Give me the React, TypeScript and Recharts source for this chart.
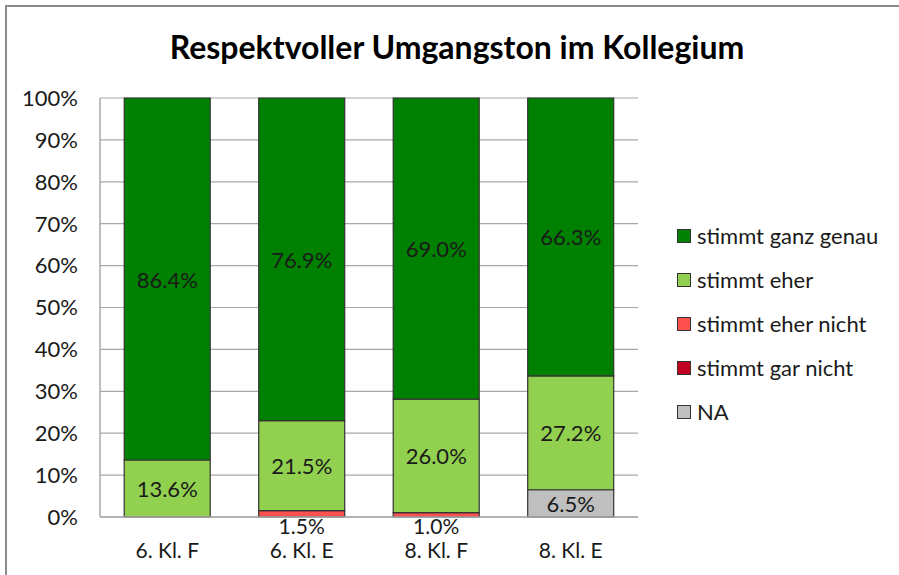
import React from 'react'
import { BarChart, Bar, XAxis, YAxis, CartesianGrid, LabelList } from 'recharts'

const classes = ['6. Kl. F', '6. Kl. E', '8. Kl. F', '8. Kl. E']
const naValues = [0, 0, 0, 6.5]
const garNichtValues = [0, 0, 0, 0]
const eherNichtValues = [0, 1.5, 1.0, 0]
const eherValues = [13.6, 21.5, 26.0, 27.2]
const ganzGenauValues = [86.4, 76.9, 69.0, 66.3]
const yTicks = [0, 0.1, 0.2, 0.3, 0.4, 0.5, 0.6, 0.7, 0.8, 0.9, 1]

// stack order, bottom to top
const series = [
  { key: 'na', name: 'NA', color: '#BFBFBF', values: naValues },
  { key: 'garNicht', name: 'stimmt gar nicht', color: '#C00020', values: garNichtValues },
  { key: 'eherNicht', name: 'stimmt eher nicht', color: '#FF5050', values: eherNichtValues },
  { key: 'eher', name: 'stimmt eher', color: '#92D050', values: eherValues },
  { key: 'ganzGenau', name: 'stimmt ganz genau', color: '#008000', values: ganzGenauValues }
]

const data = classes.map((c, i) => {
  const row: Record<string, any> = { name: c }
  series.forEach(s => { row[s.key] = s.values[i] })
  return row
})

const FONT = 'Lato, "Open Sans", sans-serif'

const SegmentLabel = (props: any) => {
  const { x, y, width, height, value } = props
  if (!value) return null
  const small = height < 16
  // tiny segments get their label just under the axis, like Excel does
  const cy = small ? y + height + 8 : y + height / 2
  return (
    <text
      x={x + width / 2}
      y={cy}
      textAnchor="middle"
      dominantBaseline="central"
      fontSize={small ? 21 : 22}
      fontFamily={FONT}
      fill="#1a1a1a"
    >
      {Number(value).toFixed(1)}%
    </text>
  )
}

export default function App() {
  return (
    <div style={{ position: 'absolute', left: 0, top: 0, width: 899, height: 575, overflow: 'hidden', background: '#fff', fontFamily: FONT }}>
      <div style={{ position: 'absolute', left: 5, top: 5, width: 2, height: 570, background: '#8c8c8c' }} />
      <div style={{ position: 'absolute', left: 5, top: 5, width: 894, height: 2, background: '#8c8c8c' }} />
      <div style={{ position: 'absolute', left: 0, top: 27, width: 914, textAlign: 'center', fontSize: 32, lineHeight: '40px', fontWeight: 700, color: '#000' }}>
        Respektvoller Umgangston im Kollegium
      </div>
      <div style={{ position: 'absolute', left: 0, top: 0 }}>
        <BarChart
          width={899}
          height={575}
          data={data}
          stackOffset="expand"
          barCategoryGap="18%"
          margin={{ top: 98, right: 261, bottom: 0, left: 0 }}
        >
          <CartesianGrid vertical={false} stroke="#A8A8A8" strokeWidth={1.2} />
          <XAxis
            dataKey="name"
            height={58}
            tickLine={false}
            axisLine={{ stroke: '#A8A8A8', strokeWidth: 1.5 }}
            tick={{ fontSize: 21, fontFamily: FONT, fill: '#1a1a1a' }}
            tickMargin={20}
            interval={0}
          />
          <YAxis
            width={100}
            domain={[0, 1]}
            ticks={yTicks}
            tickFormatter={(v: number) => `${Math.round(v * 100)}%`}
            tickLine={false}
            axisLine={{ stroke: '#A8A8A8', strokeWidth: 1.5 }}
            tick={{ fontSize: 22, fontFamily: FONT, fill: '#1a1a1a' }}
            tickMargin={16}
            interval={0}
          />
          {series.map(s => (
            <Bar
              key={s.key}
              dataKey={s.key}
              name={s.name}
              stackId="a"
              fill={s.color}
              stroke="#333"
              strokeWidth={1.2}
              isAnimationActive={false}
            >
              <LabelList dataKey={s.key} content={<SegmentLabel />} />
            </Bar>
          ))}
        </BarChart>
      </div>
      <div style={{ position: 'absolute', left: 677, top: 214 }}>
        {[...series].reverse().map(s => (
          <div key={s.key} style={{ display: 'flex', alignItems: 'center', height: 44 }}>
            <span style={{ width: 12, height: 12, background: s.color, border: '1.5px solid #333', display: 'inline-block', marginRight: 6 }} />
            <span style={{ fontSize: 22, color: '#1a1a1a', lineHeight: '24px' }}>{s.name}</span>
          </div>
        ))}
      </div>
    </div>
  )
}
